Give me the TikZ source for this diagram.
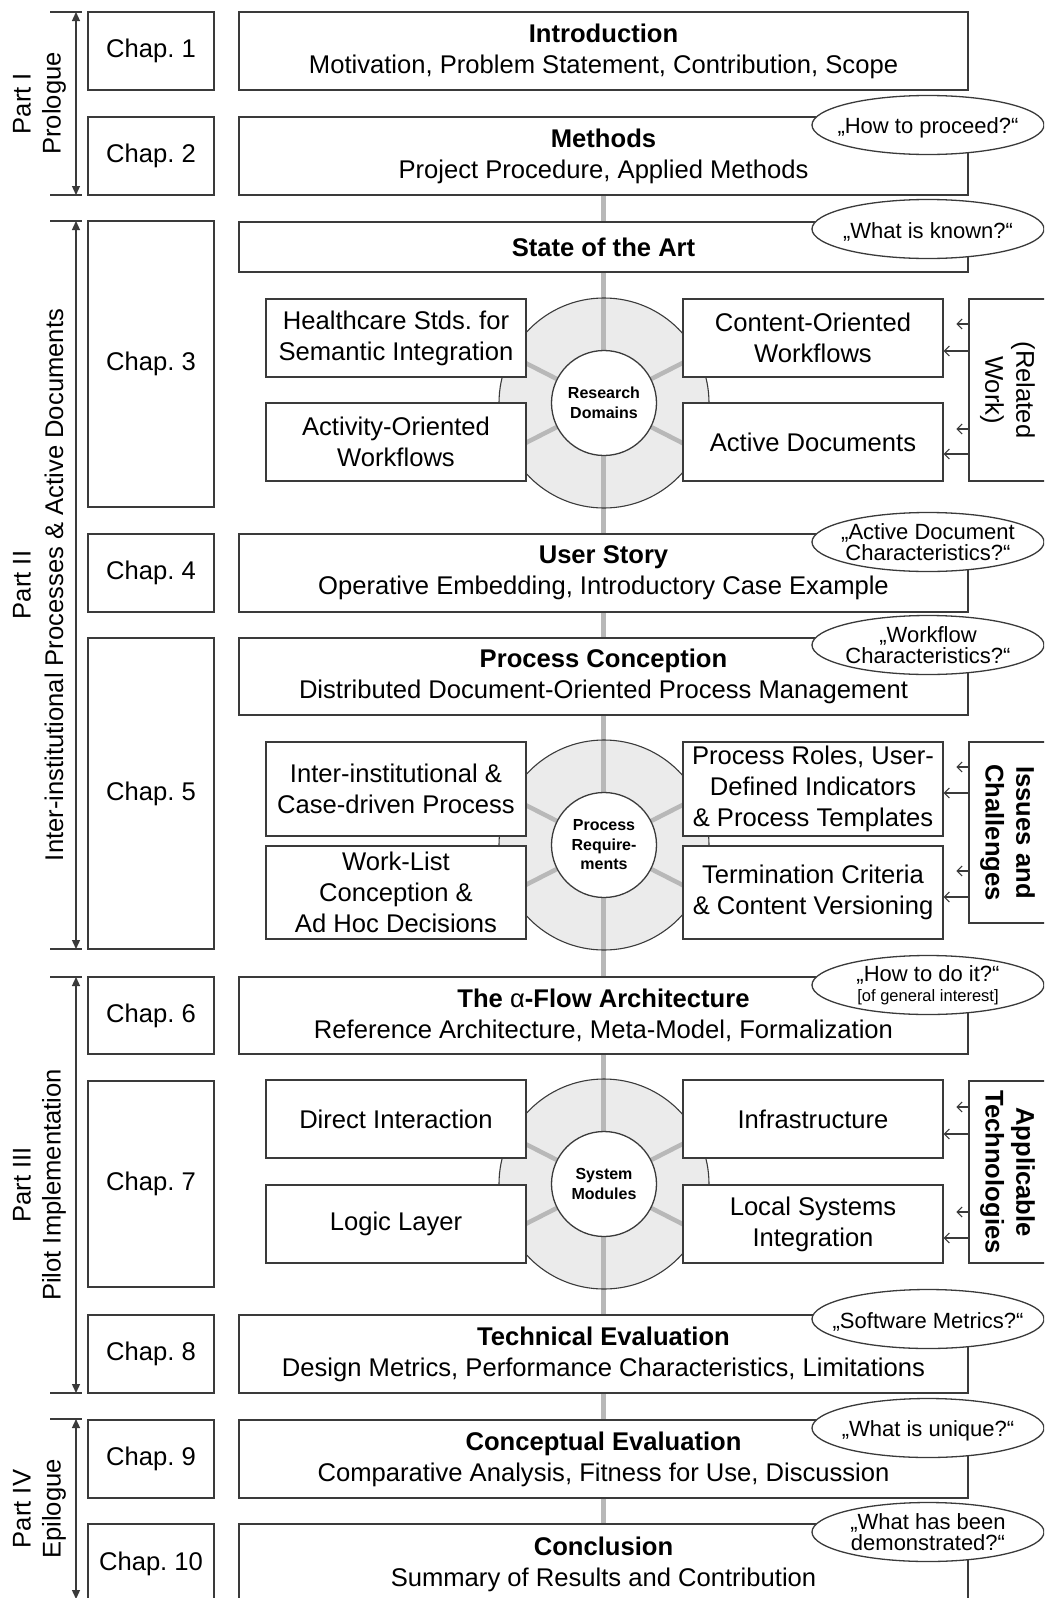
\documentclass[tikz,border=0pt]{standalone}
\usepackage{fontspec}
\setmainfont{Liberation Sans}
\usetikzlibrary{arrows.meta,shapes.geometric,calc}

\definecolor{ink}{HTML}{3A3A3A}
\definecolor{spinegray}{HTML}{B8B8B8}
\definecolor{diskgray}{HTML}{EBEBEB}

\newcommand{\mainsize}{\fontsize{25.6}{30.8}\selectfont\frenchspacing}
\newcommand{\asksize}{\fontsize{22}{21}\selectfont\frenchspacing}
\newcommand{\notesize}{\fontsize{16.5}{17}\selectfont}
\newcommand{\hubsize}{\fontsize{16}{19.5}\selectfont}

\pgfdeclarelayer{disks}
\pgfdeclarelayer{lines}
\pgfsetlayers{disks,lines,main}

\tikzset{
  frame/.style={draw=ink, line width=1.3pt, fill=white, rectangle, inner sep=0pt,
    align=center, font=\mainsize, text=black},
  chapframe/.style={frame, minimum width=126, minimum height=78},
  mainframe/.style={frame, minimum width=729, minimum height=78},
  subframe/.style={frame, minimum width=260, minimum height=78},
  sideframe/.style={frame, minimum width=77, minimum height=182},
  sidetext/.style={rotate=-90, align=center, font=\mainsize, inner sep=0pt},
  hub/.style={circle, draw=ink, line width=1.3pt, fill=white, minimum size=105,
    inner sep=0pt, align=center, font=\hubsize\bfseries},
  askframe/.style={ellipse, draw=ink, line width=1.3pt, fill=white,
    minimum width=232, minimum height=59, inner sep=0pt},
  asktext/.style={align=center, font=\asksize, inner sep=0pt},
  askline/.style={asktext, yshift=-2.5pt},
  partlabel/.style={rotate=90, font=\mainsize, inner sep=0pt},
  rangearrow/.style={draw=ink, line width=1.3pt,
    {Triangle[length=9pt,width=8pt]}-{Triangle[length=9pt,width=8pt]}},
  rangetick/.style={draw=ink, line width=1.8pt},
  feed/.style={draw=ink, line width=1.1pt, -{Straight Barb[length=5pt,width=10pt]}},
  spineline/.style={draw=spinegray, line width=5pt},
  diskedge/.style={draw=ink, line width=1.1pt},
}

\begin{document}
\begin{tikzpicture}[x=1pt,y=-1pt]
\useasboundingbox (0,0) rectangle (1044,1598);
\clip (0,0) rectangle (1044,1598);

% ---------- chapter column ----------
\node[chapframe] (c1) at (151,51) {Chap. 1};
\node[chapframe] (c2) at (151,156) {Chap. 2};
\node[chapframe, minimum height=286] (c3) at (151,364) {Chap. 3};
\node[chapframe] (c4) at (151,573) {Chap. 4};
\node[chapframe, minimum height=311] (c5) at (151,793.5) {Chap. 5};
\node[chapframe, minimum height=77] (c6) at (151,1015.5) {Chap. 6};
\node[chapframe, minimum height=206] (c7) at (151,1184) {Chap. 7};
\node[chapframe] (c8) at (151,1354) {Chap. 8};
\node[chapframe] (c9) at (151,1459) {Chap. 9};
\node[chapframe, minimum height=80] (c10) at (151,1564) {Chap. 10};

% ---------- main column ----------
\node[mainframe] (intro) at (603.5,51)
  {\textbf{Introduction}\\Motivation, Problem Statement, Contribution, Scope};
\node[mainframe] (methods) at (603.5,156)
  {\textbf{Methods}\\Project Procedure, Applied Methods};
\node[mainframe, minimum height=50] (sota) at (603.5,247)
  {\textbf{State of the Art}};
\node[mainframe] (story) at (603.5,573)
  {\textbf{User Story}\\Operative Embedding, Introductory Case Example};
\node[mainframe, minimum height=77] (concept) at (603.5,676.5)
  {\textbf{Process Conception}\\Distributed Document-Oriented Process Management};
\node[mainframe, minimum height=77] (alpha) at (603.5,1015.5)
  {\textbf{The {\mdseries α}-Flow Architecture}\\Reference Architecture, Meta-Model, Formalization};
\node[mainframe] (techeval) at (603.5,1354)
  {\textbf{Technical Evaluation}\\Design Metrics, Performance Characteristics, Limitations};
\node[mainframe] (conceval) at (603.5,1459)
  {\textbf{Conceptual Evaluation}\\Comparative Analysis, Fitness for Use, Discussion};
\node[mainframe, minimum height=80] (conclusion) at (603.5,1564)
  {\textbf{Conclusion}\\Summary of Results and Contribution};

% ---------- research domains ----------
\node[hub] (rd) at (604,403) {Research\\Domains};
\node[subframe] (hc) at (396,338) {Healthcare Stds. for\\Semantic Integration};
\node[subframe] (aow) at (396,442) {Activity-Oriented\\Workflows};
\node[subframe] (cow) at (813,338) {Content-Oriented\\Workflows};
\node[subframe] (adoc) at (813,442) {Active Documents};
\node[sideframe] (rw) at (1007.5,390) {};
\node[sidetext] (rwt) at (rw.center) {(Related\\Work)};

% ---------- process requirements ----------
\node[hub] (pr) at (604,845) {Process\\Require-\\ments};
\node[subframe, minimum height=94] (iicd) at (396,789) {Inter-institutional \&\\Case-driven Process};
\node[subframe, minimum height=93] (wl) at (396,892.5) {Work-List\\Conception \&\\Ad Hoc Decisions};
\node[subframe, minimum height=94] (roles) at (813,789) {Process Roles, User-\\Defined Indicators\\\& Process Templates};
\node[subframe, minimum height=93] (term) at (813,892.5) {Termination Criteria\\\& Content Versioning};
\node[sideframe, minimum height=181] (ic) at (1007.5,832.5) {};
\node[sidetext] (ict) at (ic.center) {\textbf{Issues and}\\\textbf{Challenges}};

% ---------- system modules ----------
\node[hub] (sm) at (604,1184) {System\\Modules};
\node[subframe] (di) at (396,1119) {Direct Interaction};
\node[subframe] (ll) at (396,1224) {Logic Layer};
\node[subframe] (infra) at (813,1119) {Infrastructure};
\node[subframe] (lsi) at (813,1224) {Local Systems\\Integration};
\node[sideframe] (at) at (1007.5,1172) {};
\node[sidetext] (att) at (at.center) {\textbf{Applicable}\\\textbf{Technologies}};

% ---------- disks, spokes and the spine behind everything ----------
\begin{pgfonlayer}{disks}
  \foreach \c in {rd,pr,sm}
    \fill[diskgray] (\c.center) circle[radius=105pt];
\end{pgfonlayer}
\begin{pgfonlayer}{lines}
  \draw[spineline] (methods.south) -- (conclusion.south);
  \foreach \c in {rd,pr,sm}{
    \foreach \a in {27,153,207,333}
      \draw[spineline, line width=4.5pt] ($(\c.center)+(\a:52pt)$) -- ($(\c.center)+(\a:104pt)$);
    \draw[diskedge] (\c.center) circle[radius=105pt];
  }
\end{pgfonlayer}

% ---------- feeds from the side boxes ----------
\draw[feed] (rw.west |- 0,324) -- ++(-12,0);
\draw[feed] (rw.west |- 0,351) -- (cow.east |- 0,351);
\draw[feed] (rw.west |- 0,429) -- ++(-12,0);
\draw[feed] (rw.west |- 0,454) -- (adoc.east |- 0,454);
\draw[feed] (ic.west |- 0,767) -- ++(-12,0);
\draw[feed] (ic.west |- 0,793) -- (roles.east |- 0,793);
\draw[feed] (ic.west |- 0,871) -- ++(-12,0);
\draw[feed] (ic.west |- 0,897) -- (term.east |- 0,897);
\draw[feed] (at.west |- 0,1107) -- ++(-12,0);
\draw[feed] (at.west |- 0,1134) -- (infra.east |- 0,1134);
\draw[feed] (at.west |- 0,1212) -- ++(-12,0);
\draw[feed] (at.west |- 0,1238) -- (lsi.east |- 0,1238);

% ---------- guiding questions ----------
\node[askframe] (q1) at (928,125) {};
\node[askline] at (q1) {„How to proceed?“};
\node[askframe] (q2) at (928,229) {};
\node[askline] at (q2) {„What is known?“};
\node[askframe] (q3) at (928,542) {};
\node[asktext] at (q3) {„Active Document\\Characteristics?“};
\node[askframe] (q4) at (928,645) {};
\node[asktext] at (q4) {„Workflow\\Characteristics?“};
\node[askframe] (q5) at (928,985) {};
\node[asktext] at (q5) {„How to do it?“\\[-1pt]{\notesize [of general interest]}};
\node[askframe] (q6) at (928,1319) {};
\node[askline] at (q6) {„Software Metrics?“};
\node[askframe] (q7) at (928,1428) {};
\node[askline] at (q7) {„What is unique?“};
\node[askframe] (q8) at (928,1532) {};
\node[asktext] at (q8) {„What has been\\demonstrated?“};

% ---------- parts ----------
\coordinate (r1a) at (76,12);   \coordinate (r1b) at (76,195);
\coordinate (r2a) at (76,221);  \coordinate (r2b) at (76,949);
\coordinate (r3a) at (76,977);  \coordinate (r3b) at (76,1393);
\coordinate (r4a) at (76,1419); \coordinate (r4b) at (76,1599);
\foreach \r in {r1a,r1b,r2a,r2b,r3a,r3b,r4a}
  \draw[rangetick] ([xshift=-26pt]\r) -- ([xshift=6pt]\r);
\draw[rangearrow] (r1a) -- (r1b);
\draw[rangearrow] (r2a) -- (r2b);
\draw[rangearrow] (r3a) -- (r3b);
\draw[rangearrow] (r4a) -- (r4b);

\node[partlabel] (p1) at (22,103.5) {Part I};
\node[partlabel] (p1s) at (54,103.5) {Prologue};
\node[partlabel] (p2) at (22,585) {Part II};
\node[partlabel] (p2s) at (54,585) {Inter-institutional Processes \& Active Documents};
\node[partlabel] (p3) at (22,1185) {Part III};
\node[partlabel] (p3s) at (54,1185) {Pilot Implementation};
\node[partlabel] (p4) at (22,1509) {Part IV};
\node[partlabel] (p4s) at (54,1509) {Epilogue};
\end{tikzpicture}
\end{document}
